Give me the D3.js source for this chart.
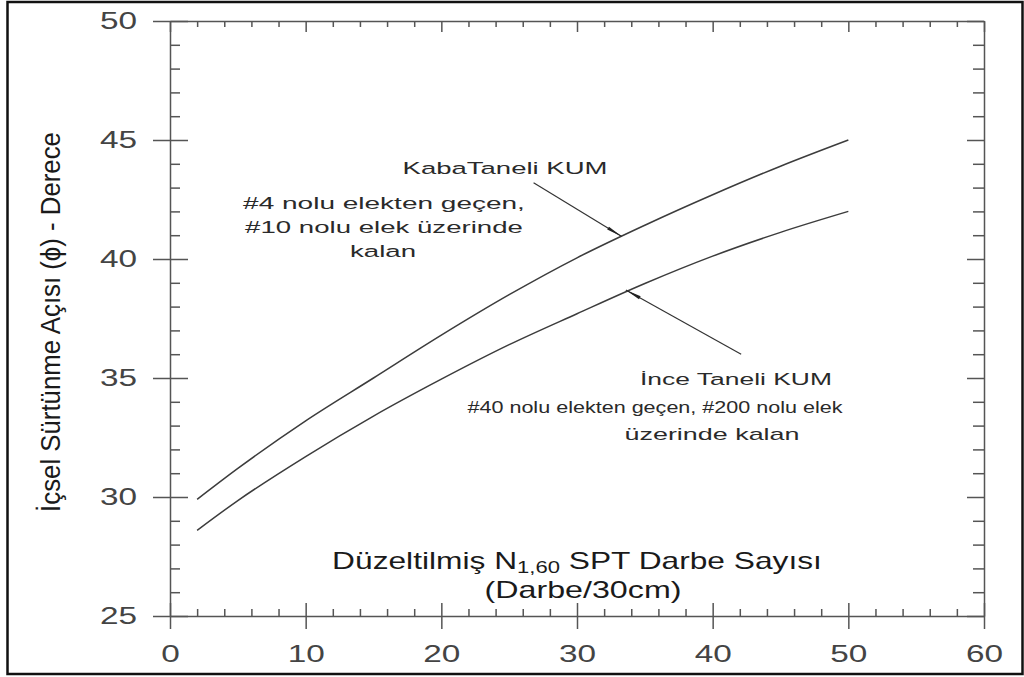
<!DOCTYPE html>
<html>
<head>
<meta charset="utf-8">
<script src="https://cdn.jsdelivr.net/npm/d3@7"></script>
<style>
  html, body { margin: 0; padding: 0; background: #fff; }
  svg { display: block; }
  text { font-family: "Liberation Sans", Arial, sans-serif; }
</style>
</head>
<body>
<svg id="chart" width="1024" height="677"></svg>
<script>
// Axis ticks
const xTicks = [0, 10, 20, 30, 40, 50, 60];
const yTicks = [25, 30, 35, 40, 45, 50];

// Corrected SPT blow count N1,60 and friction angle (degrees)
const nValues    = [2, 5, 10, 15, 20, 25, 30, 35, 40, 45, 50];
const coarseSand = [29.9, 31.2, 33.2, 35.0, 36.8, 38.5, 40.05, 41.42, 42.7, 43.9, 45.0];
const fineSand   = [28.6, 29.85, 31.7, 33.4, 34.95, 36.4, 37.7, 38.97, 40.12, 41.12, 42.0];

// Callout leaders: [N, phi] of the tail and of the arrow tip on the curve
const coarseLeader = [[26.8, 43.2], [33.3, 40.95]];
const fineLeader   = [[42.1, 36.0], [33.6, 38.7]];

const svg = d3.select("#chart");
const x = d3.scaleLinear().domain([0, 60]).range([170, 984]);
const y = d3.scaleLinear().domain([25, 50]).range([616, 21]);

const axisColor = "#555";
const xMinor = d3.range(0, 61, 2).filter(v => v % 10 !== 0);
const yMinor = d3.range(25, 51, 1).filter(v => v % 5 !== 0);

svg.append("rect").attr("width", 1024).attr("height", 677).attr("fill", "#fff");

function styleAxis(g) {
  g.attr("font-family", null).attr("font-size", null);
  g.selectAll(".domain, .tick line").attr("stroke", axisColor).attr("stroke-width", 1.5);
}
function noDomain(g) { g.select(".domain").remove(); }

const tickK = 1.45;

// ---- bottom axis
svg.append("g").attr("transform", `translate(0,${y(25)})`)
  .call(d3.axisBottom(x).tickValues(xMinor).tickSize(-7).tickFormat(""))
  .call(styleAxis).call(noDomain);
const gB = svg.append("g").attr("transform", `translate(0,${y(25)})`)
  .call(d3.axisBottom(x).tickValues(xTicks).tickSize(13).tickSizeOuter(0).tickFormat(d3.format("d")))
  .call(styleAxis);
gB.selectAll(".tick line").attr("y1", -13);
gB.selectAll(".tick text")
  .attr("y", 46).attr("dy", 0)
  .attr("font-size", 23).attr("fill", "#444")
  .attr("transform", `scale(${tickK},1)`);

// ---- top axis
svg.append("g").attr("transform", `translate(0,${y(50)})`)
  .call(d3.axisTop(x).tickValues(xMinor).tickSize(-6).tickFormat(""))
  .call(styleAxis).call(noDomain);
svg.append("g").attr("transform", `translate(0,${y(50)})`)
  .call(d3.axisTop(x).tickValues(xTicks).tickSize(-11).tickSizeOuter(0).tickFormat(""))
  .call(styleAxis);

// ---- left axis
svg.append("g").attr("transform", `translate(${x(0)},0)`)
  .call(d3.axisLeft(y).tickValues(yMinor).tickSize(-10).tickFormat(""))
  .call(styleAxis).call(noDomain);
const gL = svg.append("g").attr("transform", `translate(${x(0)},0)`)
  .call(d3.axisLeft(y).tickValues(yTicks).tickSize(17).tickSizeOuter(0).tickFormat(d3.format("d")))
  .call(styleAxis);
gL.selectAll(".tick line").attr("x1", 18);
gL.selectAll(".tick text")
  .attr("x", -33 / tickK)
  .attr("font-size", 23).attr("fill", "#444")
  .attr("transform", `scale(${tickK},1)`);

// ---- right axis
svg.append("g").attr("transform", `translate(${x(60)},0)`)
  .call(d3.axisRight(y).tickValues(yMinor).tickSize(-11).tickFormat(""))
  .call(styleAxis).call(noDomain);
svg.append("g").attr("transform", `translate(${x(60)},0)`)
  .call(d3.axisRight(y).tickValues(yTicks).tickSize(-17).tickSizeOuter(0).tickFormat(""))
  .call(styleAxis);

// ---- curves
const line = d3.line().x(d => x(d[0])).y(d => y(d[1])).curve(d3.curveMonotoneX);
[coarseSand, fineSand].forEach(series => {
  svg.append("path")
    .datum(nValues.map((n, i) => [n, series[i]]))
    .attr("d", line)
    .attr("fill", "none")
    .attr("stroke", "#3c3c3c")
    .attr("stroke-width", 1.5);
});

// ---- callout leaders with slim arrowheads
function leader(pts) {
  const [x1, y1] = [x(pts[0][0]), y(pts[0][1])];
  const [x2, y2] = [x(pts[1][0]), y(pts[1][1])];
  svg.append("line").attr("x1", x1).attr("y1", y1).attr("x2", x2).attr("y2", y2)
    .attr("stroke", "#333").attr("stroke-width", 1.2);
  const len = Math.hypot(x2 - x1, y2 - y1);
  const ux = (x2 - x1) / len, uy = (y2 - y1) / len;
  const L = 16, w = 1.7;
  const bx = x2 - ux * L, by = y2 - uy * L;
  svg.append("polygon")
    .attr("points", [[x2, y2], [bx - uy * w, by + ux * w], [bx + uy * w, by - ux * w]].map(p => p.join(",")).join(" "))
    .attr("fill", "#222");
}
leader(coarseLeader);
leader(fineLeader);

// ---- text placed at a centre point and fitted to a given width
function fitText(parts, cx, baseline, size, width, opts = {}) {
  const t = svg.append("text")
    .attr("font-size", size)
    .attr("text-anchor", "middle")
    .attr("fill", opts.fill || "#2a2a2a");
  parts.forEach(p => {
    const s = t.append("tspan").text(p.text);
    if (p.size) s.attr("font-size", p.size);
    if (p.dy) s.attr("dy", p.dy);
  });
  const w = t.node().getBBox().width;
  const rot = opts.rotate ? ` rotate(${opts.rotate})` : "";
  t.attr("transform", `translate(${cx},${baseline})${rot} scale(${width / w},1)`);
  return t;
}

// axis titles
fitText([{ text: "İçsel Sürtünme Açısı (ϕ) - Derece" }], 60, 322, 28, 380, { rotate: -90, fill: "#1a1a1a" });
fitText([
  { text: "Düzeltilmiş N" },
  { text: "1,60", size: 16, dy: 4 },
  { text: " SPT Darbe Sayısı", dy: -4 }
], 577, 569, 23, 490, { fill: "#1a1a1a" });
fitText([{ text: "(Darbe/30cm)" }], 583, 598, 23, 197, { fill: "#1a1a1a" });

// callout labels: coarse sand
fitText([{ text: "KabaTaneli KUM" }], 505, 174, 17, 205);
fitText([{ text: "#4 nolu elekten geçen," }], 384, 209, 17, 282);
fitText([{ text: "#10 nolu elek üzerinde" }], 384, 233, 17, 278);
fitText([{ text: "kalan" }], 383, 257, 17, 66);

// callout labels: fine sand
fitText([{ text: "İnce Taneli KUM" }], 736, 385, 17, 192);
fitText([{ text: "#40 nolu elekten geçen, #200 nolu elek" }], 655, 413, 17, 376);
fitText([{ text: "üzerinde kalan" }], 712, 440, 17, 175);

// frame
svg.append("rect")
  .attr("x", 7.5).attr("y", 2).attr("width", 1015).attr("height", 672)
  .attr("fill", "none").attr("stroke", "#111").attr("stroke-width", 2.5);
</script>
</body>
</html>
